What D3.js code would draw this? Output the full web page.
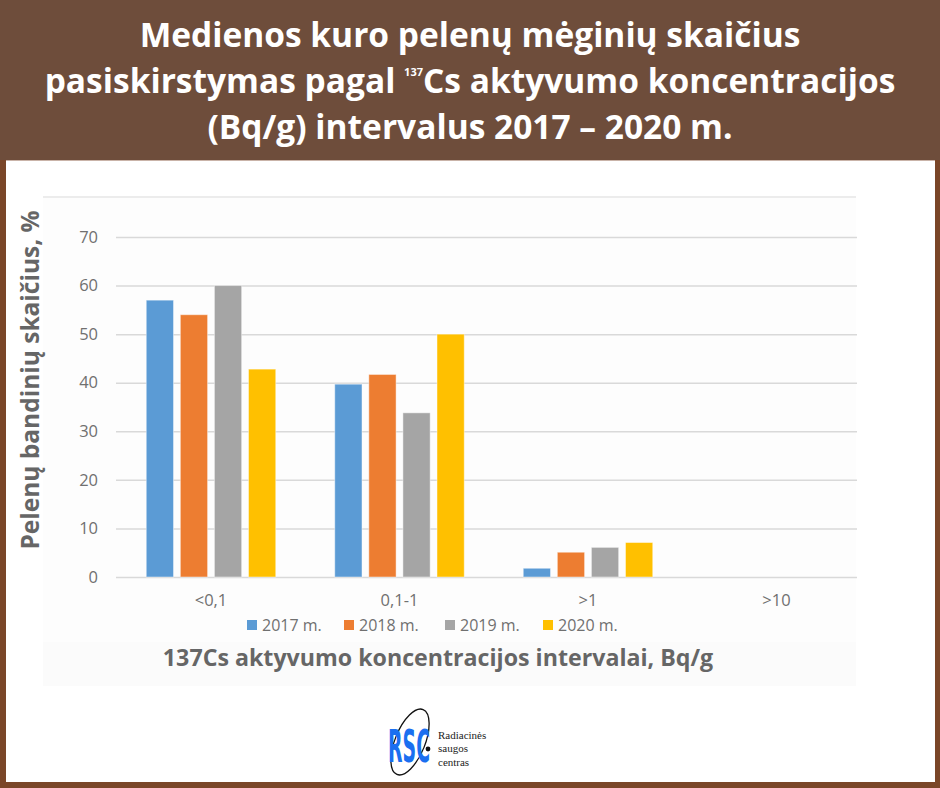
<!DOCTYPE html>
<html>
<head>
<meta charset="utf-8">
<script src="https://cdn.jsdelivr.net/npm/d3@7/dist/d3.min.js"></script>
<style>
  html, body { margin: 0; padding: 0; background: #fff; }
  svg { display: block; }
</style>
</head>
<body>
<svg id="chart" width="940" height="788"></svg>
<script>
// ---- data ----
const categories = ["<0,1", "0,1-1", ">1", ">10"];
const seriesNames = ["2017 m.", "2018 m.", "2019 m.", "2020 m."];
const values2017 = [57, 39.7, 1.8, 0];
const values2018 = [54, 41.7, 5.1, 0];
const values2019 = [60, 33.8, 6.1, 0];
const values2020 = [42.8, 50, 7.1, 0];
const yTicks = [0, 10, 20, 30, 40, 50, 60, 70];
const colors = ["#5b9bd5", "#ed7d31", "#a5a5a5", "#ffc000"];

const titleLine1 = "Medienos kuro pelenų mėginių skaičius";
const titleLine2a = "pasiskirstymas pagal ";
const titleSup = "137";
const titleLine2b = "Cs aktyvumo koncentracijos";
const titleLine3 = "(Bq/g) intervalus 2017 – 2020 m.";
const yTitle = "Pelenų bandinių skaičius, %";
const xTitle = "137Cs aktyvumo koncentracijos intervalai, Bq/g";
const logoLines = ["Radiacinės", "saugos", "centras"];

const seriesValues = [values2017, values2018, values2019, values2020];

const svg = d3.select("#chart");

// ---- frame ----
svg.append("rect").attr("x", 0).attr("y", 0).attr("width", 940).attr("height", 788).attr("fill", "#7a4628");
svg.append("rect").attr("x", 0).attr("y", 0).attr("width", 940).attr("height", 160).attr("fill", "#6e4d3b");
svg.append("rect").attr("x", 6).attr("y", 160).attr("width", 929).attr("height", 622).attr("fill", "#ffffff");
svg.append("line").attr("x1", 6).attr("x2", 935).attr("y1", 160.5).attr("y2", 160.5).attr("stroke", "#c9b3a8").attr("stroke-width", 1);
// chart image area
svg.append("rect").attr("x", 43).attr("y", 197).attr("width", 813).attr("height", 450).attr("fill", "#fdfdfd");
svg.append("rect").attr("x", 43).attr("y", 642).attr("width", 813).attr("height", 44).attr("fill", "#fbfbfb");
svg.append("line").attr("x1", 43).attr("x2", 856).attr("y1", 197).attr("y2", 197).attr("stroke", "#e6e6e6").attr("stroke-width", 1.5);

// ---- title ----
const title = svg.append("text")
  .attr("text-anchor", "middle")
  .attr("fill", "#ffffff")
  .attr("font-family", "'Open Sans', sans-serif")
  .attr("font-weight", "bold")
  .attr("font-size", 33.5);
title.append("tspan").attr("x", 470).attr("y", 47).text(titleLine1);
const l2 = title.append("tspan").attr("x", 470).attr("y", 93);
l2.append("tspan").text(titleLine2a);
l2.append("tspan").attr("font-size", 11).attr("dy", -17).text(titleSup);
l2.append("tspan").attr("dy", 17).text(titleLine2b);
title.append("tspan").attr("x", 470).attr("y", 139).text(titleLine3);

// ---- scales ----
const plotLeft = 116, plotRight = 857;
const x0 = d3.scaleBand().domain(categories).range([116.75, 870.75]).paddingInner(0).paddingOuter(0);
const x1 = d3.scaleBand().domain(seriesNames).range([29.5, 159]).paddingInner(0.2).paddingOuter(0);
const y = d3.scaleLinear().domain([0, 70]).range([577, 237]);

// ---- grid + y axis ----
const yAxis = svg.append("g")
  .attr("transform", `translate(${plotLeft},0)`)
  .call(d3.axisLeft(y).tickValues(yTicks).tickSize(-(plotRight - plotLeft)).tickPadding(18).tickFormat(d3.format("d")));
yAxis.select(".domain").remove();
yAxis.selectAll(".tick line").attr("stroke", "#d9d9d9").attr("stroke-width", 1.5);
yAxis.selectAll(".tick text")
  .attr("fill", "#707070")
  .attr("font-family", "'Open Sans', sans-serif")
  .attr("font-size", 16.5);

// ---- bars ----
const groups = svg.append("g").selectAll("g")
  .data(categories)
  .join("g")
  .attr("transform", d => `translate(${x0(d)},0)`);

groups.selectAll("rect")
  .data((c, ci) => seriesNames.map((s, si) => ({ s, si, v: seriesValues[si][ci] })))
  .join("rect")
  .filter(d => d.v > 0)
  .attr("x", d => x1(d.s))
  .attr("width", x1.bandwidth())
  .attr("y", d => y(d.v))
  .attr("height", d => y(0) - y(d.v))
  .attr("fill", d => colors[d.si])
  .attr("stroke", "#ffffff")
  .attr("stroke-opacity", 0.45)
  .attr("stroke-width", 1);

// ---- x axis labels ----
const xAxis = svg.append("g")
  .attr("transform", `translate(0,577)`)
  .call(d3.axisBottom(x0).tickSize(0).tickPadding(17));
xAxis.select(".domain").remove();
xAxis.selectAll(".tick text")
  .attr("fill", "#707070")
  .attr("font-family", "'Open Sans', sans-serif")
  .attr("font-size", 16.5);

// ---- legend ----
const legendX = [247, 344, 445, 543];
const legend = svg.append("g").selectAll("g")
  .data(seriesNames)
  .join("g")
  .attr("transform", (d, i) => `translate(${legendX[i]},620)`);
legend.append("rect").attr("width", 10).attr("height", 10).attr("fill", (d, i) => colors[i]);
legend.append("text")
  .attr("x", 15).attr("y", 5).attr("dy", "0.35em")
  .attr("fill", "#707070")
  .attr("font-family", "'Open Sans', sans-serif")
  .attr("font-size", 16)
  .text(d => d);

// ---- axis titles ----
svg.append("text")
  .attr("transform", "translate(39,380) rotate(-90)")
  .attr("text-anchor", "middle")
  .attr("fill", "#666666")
  .attr("font-family", "'Open Sans', sans-serif")
  .attr("font-weight", "bold")
  .attr("font-size", 24.5)
  .text(yTitle);

svg.append("text")
  .attr("x", 438).attr("y", 666)
  .attr("text-anchor", "middle")
  .attr("fill", "#666666")
  .attr("font-family", "'Open Sans', sans-serif")
  .attr("font-weight", "bold")
  .attr("font-size", 23.2)
  .text(xTitle);

// ---- logo ----
const logo = svg.append("g");
logo.append("ellipse")
  .attr("cx", 410).attr("cy", 742).attr("rx", 15).attr("ry", 35)
  .attr("transform", "rotate(22,410,742)")
  .attr("fill", "none").attr("stroke", "#111").attr("stroke-width", 1.3);
const rsc = logo.append("text")
  .attr("x", 0).attr("y", 0)
  .attr("text-anchor", "middle")
  .attr("fill", "#1a6ff0")
  .attr("font-family", "'DejaVu Sans Condensed', 'Liberation Sans Narrow', sans-serif")
  .attr("font-weight", "bold")
  .attr("font-size", 44)
  .text("RSC");
const rscW = rsc.node().getComputedTextLength() || 80;
rsc.attr("transform", `translate(409,762) scale(${42 / rscW},1)`);
logo.append("circle").attr("cx", 428).attr("cy", 749).attr("r", 2.4).attr("fill", "#111");
logo.selectAll("text.logoline")
  .data(logoLines)
  .join("text")
  .attr("class", "logoline")
  .attr("x", 438)
  .attr("y", (d, i) => 739 + i * 13.4)
  .attr("fill", "#222")
  .attr("font-family", "'Liberation Serif', 'DejaVu Serif', serif")
  .attr("font-size", 11)
  .text(d => d);
</script>
</body>
</html>
